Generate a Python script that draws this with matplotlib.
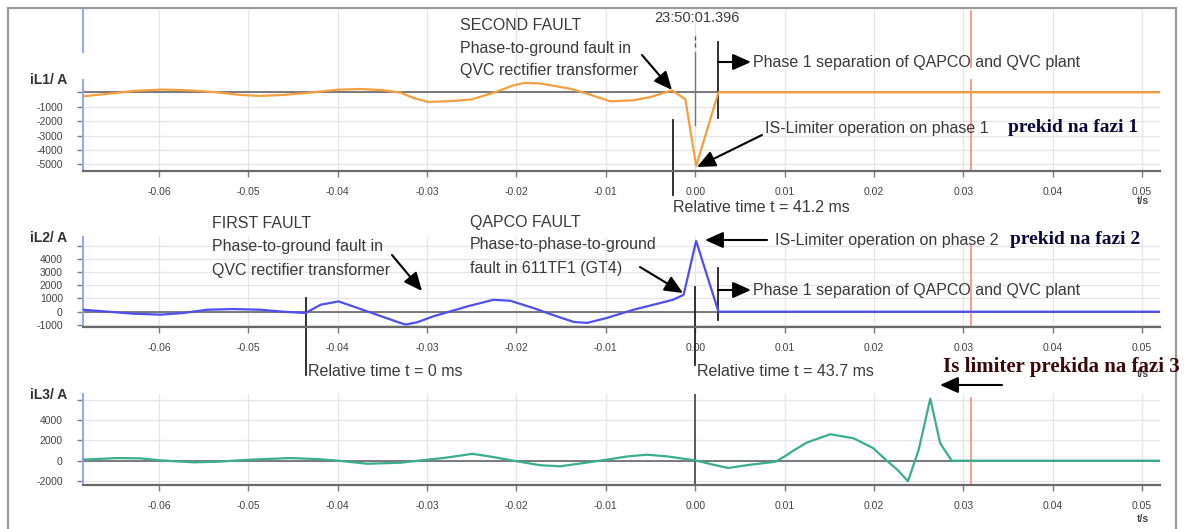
import matplotlib
matplotlib.use('Agg')
import matplotlib.pyplot as plt
from matplotlib.patches import FancyArrowPatch, Rectangle

plt.rcParams['font.family'] = ['Liberation Sans', 'DejaVu Sans']

# ---- data (time in s, current in A) ----
t1 = [-0.0685, -0.0650, -0.0629, -0.0597, -0.0568, -0.0535, -0.0510, -0.0487, -0.0460,
      -0.0427, -0.0400, -0.0375, -0.0350, -0.0330, -0.0315, -0.0299, -0.0270, -0.0250,
      -0.0224, -0.0205, -0.0192, -0.0175, -0.0162, -0.0140, -0.0121, -0.0095, -0.0070,
      -0.0050, -0.0026, -0.0011, 0.0001, 0.0026, 0.0100, 0.0520]
iL1 = [-280, -60, 90, 190, 140, 0, -180, -250, -180,
       0, 180, 230, 150, -20, -400, -670, -600, -490,
       0, 450, 650, 620, 490, 250, -100, -625, -560,
       -330, 140, -490, -5120, 0, 0, 0]

t2 = [-0.0685, -0.0629, -0.0598, -0.0573, -0.0546, -0.0517, -0.0487, -0.0461, -0.0436,
      -0.0419, -0.0399, -0.0367, -0.0330, -0.0324, -0.0311, -0.0293, -0.0255, -0.0226,
      -0.0207, -0.0181, -0.0155, -0.0136, -0.0121, -0.0099, -0.0069, -0.0047, -0.0025,
      -0.0013, 0.0001, 0.0026, 0.0520]
iL2 = [150, -150, -225, -100, 150, 200, 150, 0, -100,
       530, 780, 25, -850, -975, -800, -350, 400, 900,
       830, 275, -350, -775, -850, -475, 150, 525, 900,
       1280, 5360, 0, 0]

t3 = [-0.0685, -0.0647, -0.0621, -0.0598, -0.0561, -0.0535, -0.0498, -0.0453, -0.0423,
      -0.0399, -0.0367, -0.0330, -0.0300, -0.0282, -0.0249, -0.0226, -0.0199, -0.0173,
      -0.0151, -0.0125, -0.0099, -0.0076, -0.0054, -0.0031, 0.0000, 0.0020, 0.0037,
      0.0062, 0.0090, 0.0103, 0.0110, 0.0125, 0.0151, 0.0177, 0.0199, 0.0213, 0.0226,
      0.0238, 0.0250, 0.0263, 0.0274, 0.0287, 0.0520]
iL3 = [100, 260, 230, 30, -160, -100, 100, 260, 160,
       0, -300, -200, 100, 260, 680, 360, -70, -450,
       -550, -230, 100, 420, 590, 420, 30, -390, -715,
       -390, -100, 590, 1000, 1790, 2600, 2210, 1240, 100, -880,
       -2020, 1070, 6110, 1720, 0, 0]

xticks = [-0.06, -0.05, -0.04, -0.03, -0.02, -0.01, 0.00, 0.01, 0.02, 0.03, 0.04, 0.05]
yticks1 = [0, -1000, -2000, -3000, -4000, -5000]
yticks2 = [5000, 4000, 3000, 2000, 1000, 0, -1000]
yticks3 = [6000, 4000, 2000, 0, -2000]

# event times
t_first = -0.0436     # relative time t = 0 ms
t_second = -0.0025    # relative time t = 41.2 ms
t_limit = 0.0         # relative time t = 43.7 ms
t_sep = 0.0025        # phase 1 separation
t_cursor = 0.0309     # red cursor

W, H = 1185, 529
fig = plt.figure(figsize=(W / 100, H / 100), dpi=100)
fig.patch.set_facecolor('white')


def box(top, bottom, left=83, right=1160):
    return [left / W, 1 - bottom / H, (right - left) / W, (bottom - top) / H]


def ftext(x, y, s, **kw):
    kw.setdefault('color', '#3a3a3a')
    kw.setdefault('fontsize', 11.5)
    fig.text(x / W, 1 - y / H, s, va='center', **kw)


def farrow(x0, y0, x1, y1):
    fig.add_artist(FancyArrowPatch((x0 / W, 1 - y0 / H), (x1 / W, 1 - y1 / H),
                                   transform=fig.transFigure,
                                   arrowstyle='-|>,head_length=0.85,head_width=0.38',
                                   mutation_scale=13, color='black', lw=1.5,
                                   shrinkA=0, shrinkB=0))


panels = [
    dict(pos=box(10, 171), t=t1, i=iL1, c='#f5a040', ylim=(-5465, 5715), yt=yticks1,
         hide=[0], red=[(0, 0.565), (0.646, 1.0)]),
    dict(pos=box(237, 327), t=t2, i=iL2, c='#4f4ff2', ylim=(-1160, 5660), yt=yticks2,
         hide=[5000], red=[(0, 0.911)]),
    dict(pos=box(394, 485), t=t3, i=iL3, c='#3aae8e', ylim=(-2390, 6560), yt=yticks3,
         hide=[6000], red=[(0, 0.956)]),
]

axes = []
for p in panels:
    ax = fig.add_axes(p['pos'])
    ax.set_xlim(-0.0685, 0.052)
    ax.set_ylim(*p['ylim'])
    ax.set_xticks(xticks)
    ax.set_xticklabels(['%.2f' % v for v in xticks])
    ax.set_yticks(p['yt'])
    ax.set_yticklabels(['' if v in p['hide'] else str(v) for v in p['yt']])
    ax.grid(True, color='#e6e6e6', lw=0.9)
    ax.set_axisbelow(True)
    for s in ['top', 'right']:
        ax.spines[s].set_visible(False)
    ax.spines['bottom'].set_color('#6a6a6a')
    ax.spines['bottom'].set_linewidth(1.6)
    ax.spines['left'].set_color('#8fa8f5')
    ax.spines['left'].set_linewidth(1.4)
    ax.tick_params(axis='both', colors='#7a7a7a', labelcolor='#444444', labelsize=7.5,
                   length=4.5, width=1)
    ax.tick_params(axis='x', pad=7)
    ax.tick_params(axis='y', pad=10)
    ax.axhline(0, color='#5a5a5a', lw=1.1, zorder=2)
    for lo, hi in p['red']:
        ax.axvline(t_cursor, ymin=lo, ymax=hi, color='#f4a08c', lw=1.4, zorder=2)
    ax.plot(p['t'], p['i'], color=p['c'], lw=1.6, zorder=3)
    axes.append(ax)

ax1, ax2, ax3 = axes

# left spine of panel 1 is broken around the label
ax1.spines['left'].set_bounds(-5465, 850)
ax1.axvline(-0.0685, ymin=0.739, ymax=1.0, color='#8fa8f5', lw=1.4, clip_on=False)

# event markers
ax1.axvline(t_second, ymin=-0.149, ymax=0.317, color='#222222', lw=1.3, clip_on=False)
ax1.axvline(t_sep, ymin=0.329, ymax=0.801, color='#222222', lw=1.3, clip_on=False)
ax1.axvline(t_limit, ymin=0.286, ymax=0.739, color='#777777', lw=1.0, clip_on=False)
ax1.axvline(t_limit, ymin=0.770, ymax=0.857, color='#555555', lw=1.0, ls=(0, (3, 2)),
            clip_on=False)
ax2.axvline(t_first, ymin=-0.533, ymax=0.322, color='#222222', lw=1.3, clip_on=False)
ax2.axvline(t_limit, ymin=-0.422, ymax=0.444, color='#222222', lw=1.3, clip_on=False)
ax2.axvline(t_sep, ymin=0.078, ymax=0.656, color='#222222', lw=1.3, clip_on=False)
ax3.axvline(t_limit, color='#333333', lw=1.1, zorder=2)

# channel labels and units
for y, s in [(80, 'iL1/ A'), (238, 'iL2/ A'), (395, 'iL3/ A')]:
    ftext(30, y, s, fontsize=10, fontweight='bold', color='#333333')
for y in [201, 374, 519]:
    ftext(1143, y, 't/s', fontsize=7.5, fontweight='bold', color='#444444', ha='center')

# panel 1 annotations
ftext(697, 18, '23:50:01.396', fontsize=10.5, ha='center')
ftext(460, 25, 'SECOND FAULT')
ftext(460, 48, 'Phase-to-ground fault in')
ftext(460, 71, 'QVC rectifier transformer')
farrow(642, 55, 672, 90)
farrow(718, 62, 751, 62)
ftext(753, 62, 'Phase 1 separation of QAPCO and QVC plant')
farrow(762, 135, 697, 167)
ftext(765, 128, 'IS-Limiter operation on phase 1')
ftext(1008, 128, 'prekid na fazi 1', family='Liberation Serif', fontweight='bold',
      fontsize=14, color='#0a0a3a')
ftext(673, 207, 'Relative time t = 41.2 ms')

# panel 2 annotations
ftext(212, 223, 'FIRST FAULT')
ftext(212, 246, 'Phase-to-ground fault in')
ftext(212, 270, 'QVC rectifier transformer')
farrow(392, 255, 422, 291)
ftext(470, 222, 'QAPCO FAULT')
ftext(470, 245, 'Phase-to-phase-to-ground')
ftext(470, 268, 'fault in 611TF1 (GT4)')
farrow(640, 267, 683, 293)
farrow(767, 240, 705, 240)
ftext(775, 241, 'IS-Limiter operation on phase 2')
ftext(1010, 240, 'prekid na fazi 2', family='Liberation Serif', fontweight='bold',
      fontsize=14, color='#0a0a3a')
farrow(718, 290, 751, 290)
ftext(753, 290, 'Phase 1 separation of QAPCO and QVC plant')
ftext(308, 372, 'Relative time t = 0 ms')
ftext(697, 372, 'Relative time t = 43.7 ms')

# panel 3 annotations
ftext(943, 367, 'Is limiter prekida na fazi 3', family='Liberation Serif',
      fontweight='bold', fontsize=15, color='#3a0a0a')
farrow(1002, 385, 940, 385)

# outer frame of the screenshot
fig.add_artist(Rectangle((8 / W, -0.05), (1176 - 8) / W, 1 - 8 / H + 0.05,
                         transform=fig.transFigure, fill=False,
                         edgecolor='#9a9a9a', lw=1.6))

fig.savefig('out.png', dpi=100)
